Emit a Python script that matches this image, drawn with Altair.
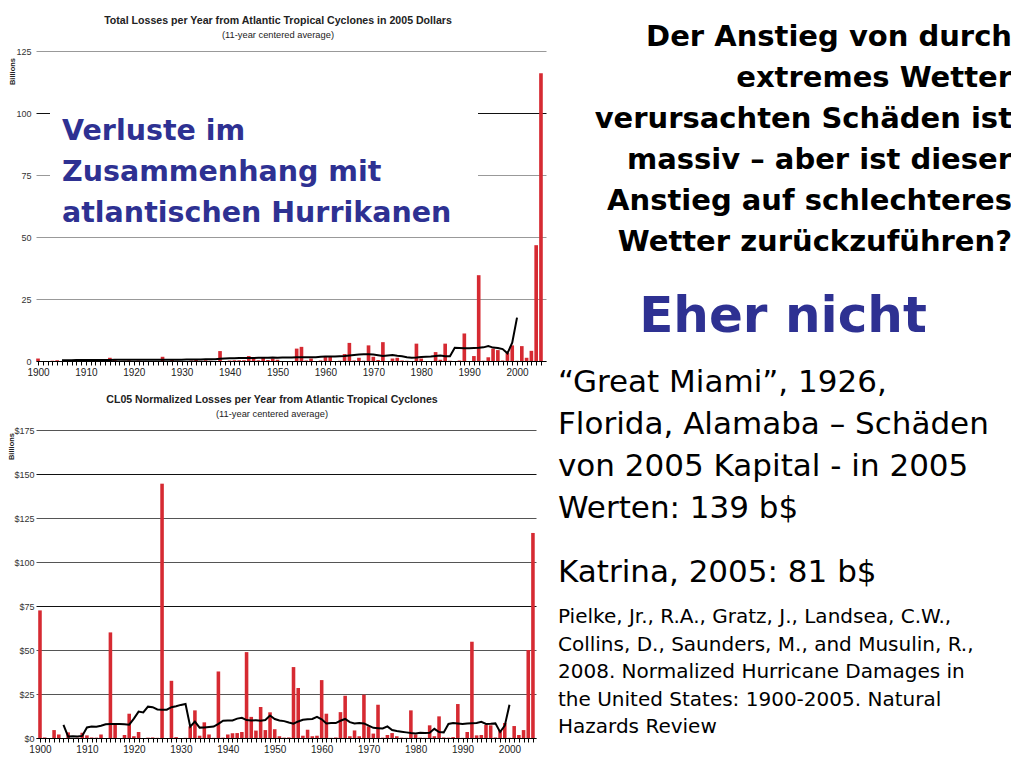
import altair as alt
import pandas as pd

# ---------------- data ----------------
years = list(range(1900, 2006))

top_values = [
    1.0, 0, 0, 0.1, 0.3, 0, 0.2, 0, 0, 0.3,
    0.2, 0, 0, 0, 0, 1.3, 0.7, 0, 0.1, 0.3,
    0, 0.2, 0, 0, 0, 0, 1.7, 0, 0.7, 0.1,
    0, 0, 0.2, 0.5, 0.1, 0.3, 0.1, 0, 4.0, 0,
    0.2, 0.3, 0.3, 0.3, 2.0, 1.0, 0.3, 1.3, 0.4, 1.0,
    0.5, 0, 0, 0, 5.0, 5.7, 0.2, 1.0, 0, 0.2,
    2.0, 2.0, 0, 0.1, 2.8, 7.3, 0.2, 1.3, 0.1, 6.3,
    1.7, 0.4, 7.6, 0, 1.0, 1.3, 0.2, 0.1, 0, 7.0,
    1.0, 0, 0, 3.6, 0.5, 7.0, 0.1, 0, 0.2, 11.1,
    0, 2.0, 34.6, 0.1, 1.5, 5.0, 4.4, 0.2, 3.3, 6.3,
    0.1, 6.0, 1.3, 4.1, 46.7, 116.0,
]

bottom_values = [
    72.5, 0.3, 0, 4.5, 2.0, 0, 3.2, 0, 0.2, 3.0,
    1.5, 0.3, 0.2, 2.0, 0, 60.0, 7.5, 0, 1.7, 13.8,
    1.0, 3.4, 0, 0.2, 0.3, 0.1, 144.5, 0, 32.5, 0.5,
    0, 0.1, 6.6, 15.7, 1.3, 8.9, 2.0, 0.1, 37.8, 0.2,
    2.0, 2.7, 2.8, 3.4, 48.8, 12.0, 4.2, 17.6, 4.5, 14.6,
    5.0, 1.0, 0.2, 0.3, 40.3, 28.4, 1.3, 4.7, 1.0, 1.3,
    32.9, 13.8, 0.1, 0.3, 14.7, 24.0, 1.0, 4.3, 1.0, 24.6,
    6.6, 2.5, 18.9, 0.2, 1.7, 2.8, 1.0, 0.2, 0.1, 15.7,
    2.0, 0.2, 0.1, 7.2, 1.0, 12.3, 0.3, 0.2, 0.5, 19.3,
    0.1, 3.4, 54.7, 1.5, 1.7, 7.4, 7.2, 0.3, 4.5, 8.5,
    0.1, 6.8, 1.7, 4.5, 50.0, 116.5,
]

avg_years = list(range(1905, 2001))

top_avg = [
    0.3, 0.3, 0.3, 0.4, 0.4,
    0.4, 0.4, 0.4, 0.4, 0.4, 0.4, 0.5, 0.5, 0.5, 0.5,
    0.5, 0.5, 0.5, 0.5, 0.5, 0.5, 0.5, 0.5, 0.5, 0.5,
    0.5, 0.6, 0.6, 0.6, 0.6, 0.7, 0.7, 0.7, 0.9, 1.0,
    1.1, 1.1, 1.2, 1.2, 1.2, 1.2, 1.3, 1.3, 1.3, 1.4,
    1.3, 1.4, 1.4, 1.4, 1.5, 1.5, 1.5, 1.5, 1.5, 1.7,
    1.8, 1.8, 1.8, 1.9, 2.0, 2.2, 2.4, 2.6, 2.7, 2.7,
    2.6, 2.3, 2.0, 2.2, 2.4, 2.1, 1.9, 1.5, 1.3, 1.4,
    1.6, 1.7, 1.8, 2.0, 2.2, 1.9, 1.9, 5.3, 5.2, 5.1,
    5.1, 5.2, 5.3, 5.5, 6.0, 5.4, 5.2, 4.8, 3.1, 7.4,
    17.5,
]

bottom_avg = [
    7.4, 0.8, 1.0, 0.9, 1.2,
    6.0, 6.5, 6.4, 7.0, 7.8, 7.9, 7.9, 7.9, 7.8, 7.6,
    11.0, 15.0, 14.5, 17.8, 17.5, 16.2, 16.0, 16.1, 17.5, 18.0,
    18.8, 19.3, 6.4, 9.3, 5.9, 6.0, 6.3, 6.5, 8.0, 9.8,
    9.9, 10.0, 11.0, 11.5, 10.2, 10.0, 10.1, 9.8, 10.2, 12.8,
    10.8, 10.0, 9.6, 8.8, 8.1, 9.4, 10.4, 10.6, 10.8, 12.0,
    10.6, 8.3, 8.5, 8.5, 9.8, 10.8, 9.0, 8.3, 8.5, 8.3,
    7.0, 5.8, 5.6, 5.4, 6.6, 4.5, 4.0, 3.6, 3.2, 2.8,
    2.6, 3.0, 2.9, 3.0, 5.2, 3.4, 3.2, 8.0, 8.5, 8.3,
    8.0, 8.3, 8.4, 8.5, 9.2, 8.0, 8.1, 8.3, 3.4, 7.0,
    18.9,
]

top_title = "Total Losses per Year from Atlantic Tropical Cyclones in 2005 Dollars"
bottom_title = "CL05 Normalized Losses per Year from Atlantic Tropical Cyclones"
subtitle = "(11-year centered average)"

label_text = ["Verluste im", "Zusammenhang mit", "atlantischen Hurrikanen"]
question_text = [
    "Der Anstieg von durch",
    "extremes Wetter",
    "verursachten Schäden ist",
    "massiv – aber ist dieser",
    "Anstieg auf schlechteres",
    "Wetter zurückzuführen?",
]
answer_text = "Eher nicht"
miami_text = [
    "“Great Miami”, 1926,",
    "Florida, Alamaba – Schäden",
    "von 2005 Kapital - in 2005",
    "Werten: 139 b$",
]
katrina_text = "Katrina, 2005: 81 b$"
ref_text = [
    "Pielke, Jr., R.A., Gratz, J., Landsea, C.W.,",
    "Collins, D., Saunders, M., and Musulin, R.,",
    "2008. Normalized Hurricane Damages in",
    "the United States: 1900-2005. Natural",
    "Hazards Review",
]

# ---------------- frames ----------------
top_df = pd.DataFrame({"year": years, "value": top_values})
bot_df = pd.DataFrame({"year": years, "value": bottom_values})
top_avg_df = pd.DataFrame({"year": avg_years, "avg": top_avg})
bot_avg_df = pd.DataFrame({"year": avg_years, "avg": bottom_avg})

BAR = "#d62a32"
BLUE = "#2e3192"
AXFONT = "Liberation Sans"
TXTFONT = "DejaVu Sans"
one = alt.Data(values=[{}])

label_expr = "datum.value % 10 == 0 ? toString(datum.value) : ''"


def txt(text, x, y, size, weight="normal", color="black", align="left", lh=None, font=TXTFONT):
    kw = dict(font=font, fontSize=size, fontWeight=weight, color=color,
              align=align, baseline="alphabetic")
    if lh is not None:
        kw["lineHeight"] = lh
    return alt.Chart(one).mark_text(**kw).encode(
        x=alt.value(x), y=alt.value(y), text=alt.value(text)
    )


def panel(df, avg_df, xdom, ydom, yvals, ylabel_expr, grid_cond,
          ytitle_x, ytitle_y, lab_pad):
    xs = alt.Scale(domain=xdom, nice=False, zero=False)
    ys = alt.Scale(domain=ydom, nice=False)
    xaxis = alt.Axis(
        values=years, labelExpr=label_expr, labelOverlap=False, labelFlush=False,
        tickSize=4, tickColor="black", domainColor="black", tickWidth=1,
        labelFont=AXFONT, labelFontSize=10, labelColor="#222", labelPadding=2,
        grid=False, title=None,
    )
    yaxis = alt.Axis(
        values=yvals, grid=True, gridColor=grid_cond, gridWidth=1,
        domain=False, ticks=False, labelExpr=ylabel_expr,
        labelFont=AXFONT, labelFontSize=9, labelColor="#333",
        labelPadding=lab_pad, title="Billions", titleFont=AXFONT,
        titleFontSize=7.5, titleFontWeight="bold", titleAngle=-90,
        titleX=ytitle_x, titleY=ytitle_y, titleAlign="center",
        titleBaseline="middle", titleColor="#222",
    )
    bars = alt.Chart(df).mark_rect(color=BAR).transform_calculate(
        x0="datum.year - 0.38", x1="datum.year + 0.38"
    ).encode(
        x=alt.X("x0:Q", scale=xs, axis=xaxis),
        x2="x1:Q",
        y=alt.Y("value:Q", scale=ys, axis=yaxis),
        y2=alt.datum(0),
    )
    line = alt.Chart(avg_df).mark_line(color="black", strokeWidth=2).encode(
        x=alt.X("year:Q", scale=xs, axis=xaxis),
        y=alt.Y("avg:Q", scale=ys, axis=yaxis),
    )
    return bars, line


top_bars, top_line = panel(
    top_df, top_avg_df, [1899.58, 2006.05], [0, 125], [0, 25, 50, 75, 100, 125],
    "toString(datum.value)",
    alt.condition("datum.value == 100", alt.value("#111"), alt.value("#999")),
    -24, 20, 5,
)
bot_bars, bot_line = panel(
    bot_df, bot_avg_df, [1899.15, 2005.65], [0, 175], [0, 25, 50, 75, 100, 125, 150, 175],
    "'$' + toString(datum.value)",
    alt.condition("datum.value == 150 || datum.value == 75", alt.value("#111"), alt.value("#555")),
    -24.5, 16, 2,
)

# annotation layers (pixel positions relative to each panel's plot area)
white_box = alt.Chart(one).mark_rect(color="white").encode(
    x=alt.value(14), x2=alt.value(442), y=alt.value(51), y2=alt.value(179)
)

top_texts = [
    txt(top_title, 242, -27, 10.6, "bold", "#222", "center", font=AXFONT),
    txt(subtitle, 242, -13, 9.3, "normal", "#222", "center", font=AXFONT),
    txt(label_text, 26, 89, 28.5, "bold", BLUE, "left", 41),
    txt(question_text, 976, -5, 29, "bold", "black", "right", 41),
    txt(answer_text, 747, 281, 50, "bold", BLUE, "center"),
    txt(miami_text, 522, 341, 31, "normal", "black", "left", 42),
    txt(katrina_text, 522, 531, 31, "normal", "black", "left"),
    txt(ref_text, 522, 572, 20, "normal", "black", "left", 27.5),
]
bottom_texts = [
    txt(bottom_title, 236, -27, 10.6, "bold", "#222", "center", font=AXFONT),
    txt(subtitle, 236, -13.5, 9.3, "normal", "#222", "center", font=AXFONT),
]

top = alt.layer(top_bars, top_line, white_box, *top_texts).properties(width=510, height=310)
bottom = alt.layer(bot_bars, bot_line, *bottom_texts).properties(width=500, height=308)

chart = alt.vconcat(top, bottom, spacing=69, bounds="flush").properties(
    autosize=alt.AutoSizeParams(type="none"),
    padding={"left": 28, "top": 43, "right": 975, "bottom": 712},
    background="white",
).configure_view(stroke=None)

chart.save("out.html", embed_options={"renderer": "svg", "actions": False})
